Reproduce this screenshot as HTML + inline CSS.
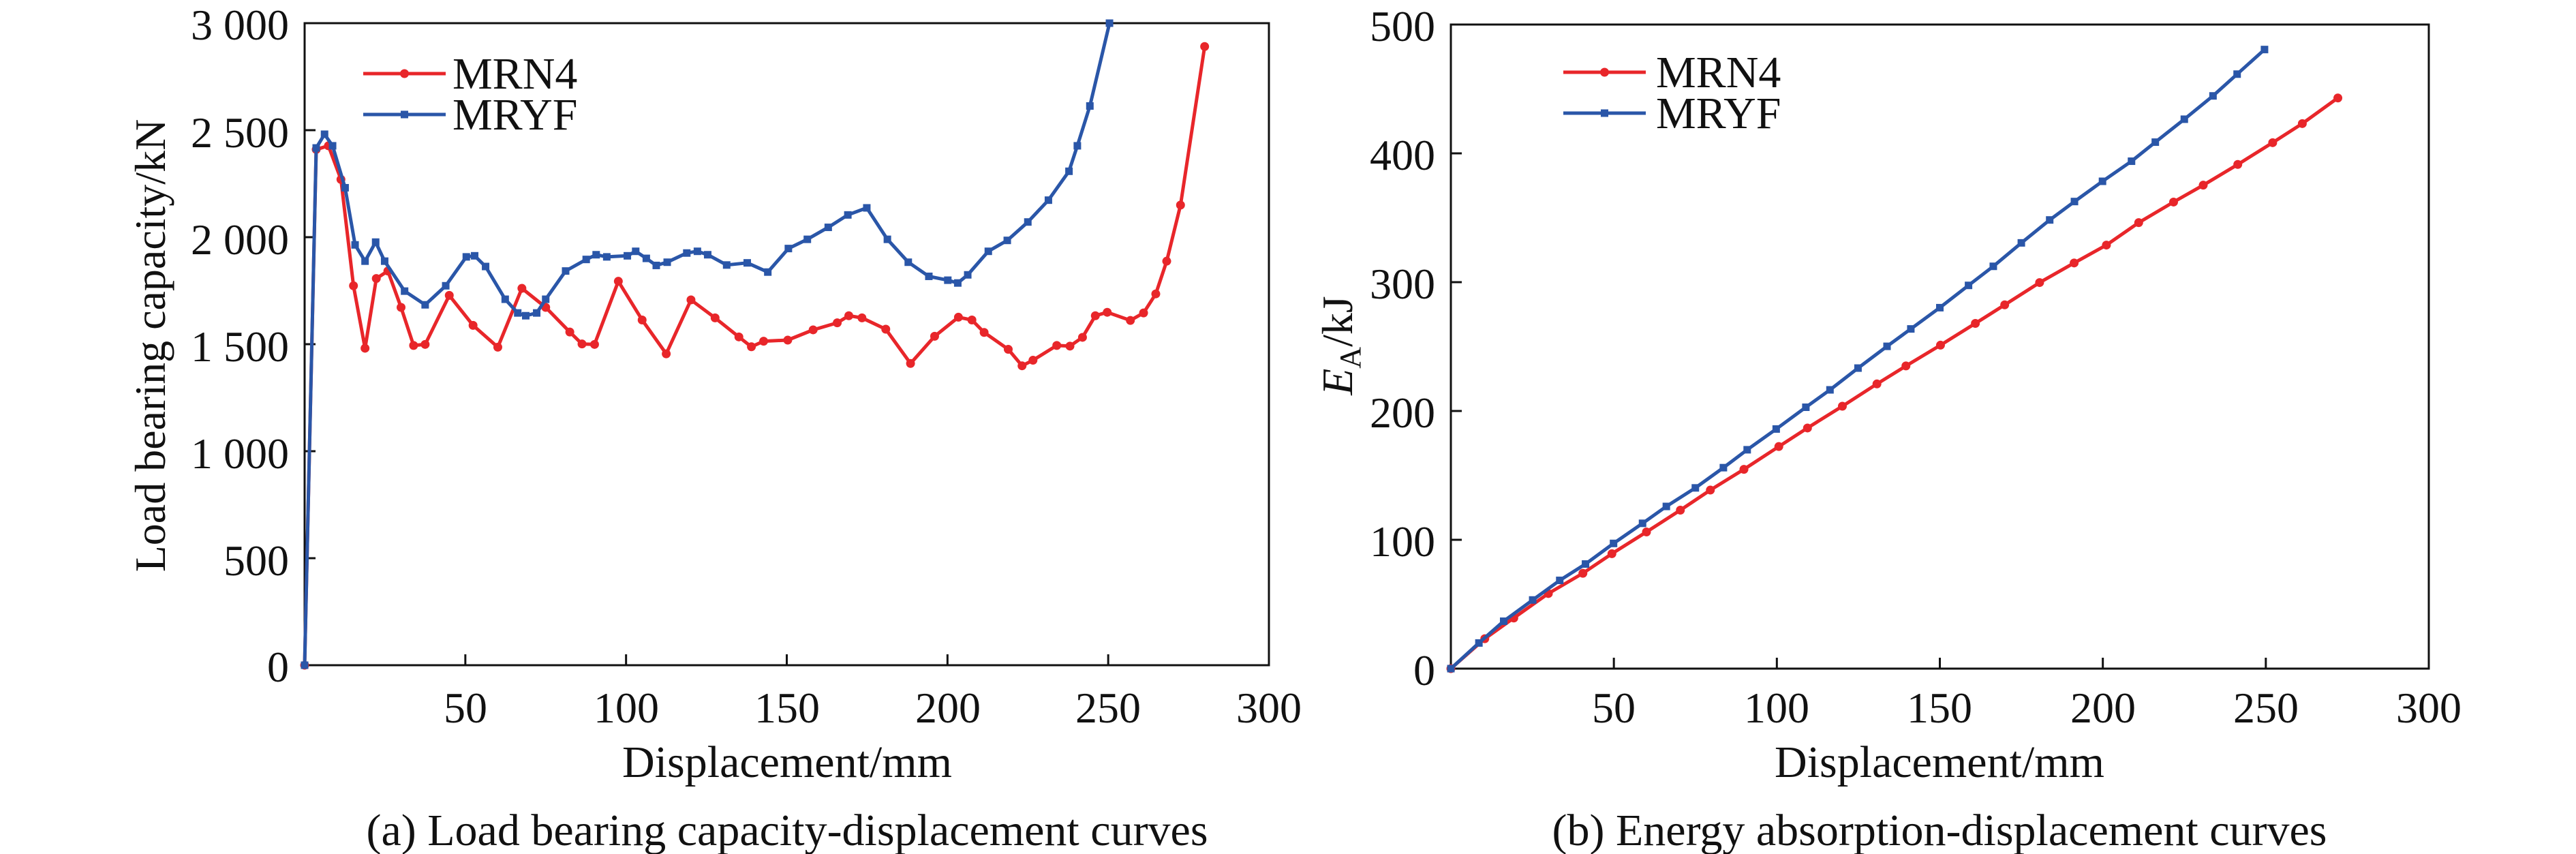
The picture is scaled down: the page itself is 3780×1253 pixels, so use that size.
<!DOCTYPE html>
<html><head><meta charset="utf-8"><style>
html,body{margin:0;padding:0;background:#fff;}
svg{display:block;font-family:"Liberation Serif",serif;}
</style></head><body>
<svg id="s" width="3780" height="1253" xmlns="http://www.w3.org/2000/svg">
<rect width="3780" height="1253" fill="#fff"/>
<g id="g"></g>
<!-- Panel a texts -->
<g font-size="64" fill="#111">
<text x="424" y="58" text-anchor="end">3 000</text>
<text x="424" y="216" text-anchor="end">2 500</text>
<text x="424" y="373" text-anchor="end">2 000</text>
<text x="424" y="530" text-anchor="end">1 500</text>
<text x="424" y="687" text-anchor="end">1 000</text>
<text x="424" y="844" text-anchor="end">500</text>
<text x="424" y="1000" text-anchor="end">0</text>
<text x="683" y="1060" text-anchor="middle">50</text>
<text x="919" y="1060" text-anchor="middle">100</text>
<text x="1155" y="1060" text-anchor="middle">150</text>
<text x="1391" y="1060" text-anchor="middle">200</text>
<text x="1626" y="1060" text-anchor="middle">250</text>
<text x="1862" y="1060" text-anchor="middle">300</text>
<text x="1155" y="1140" text-anchor="middle" font-size="66">Displacement/mm</text>
<text x="1155" y="1240" text-anchor="middle" font-size="66">(a) Load bearing capacity-displacement curves</text>
<text transform="translate(242,507) rotate(-90)" text-anchor="middle" font-size="64">Load bearing capacity/kN</text>
<text x="664" y="130" font-size="66">MRN4</text>
<text x="664" y="190" font-size="66">MRYF</text>
</g>
<!-- Panel b texts -->
<g font-size="64" fill="#111">
<text x="2106" y="60" text-anchor="end">500</text>
<text x="2106" y="249" text-anchor="end">400</text>
<text x="2106" y="438" text-anchor="end">300</text>
<text x="2106" y="627" text-anchor="end">200</text>
<text x="2106" y="816" text-anchor="end">100</text>
<text x="2106" y="1005" text-anchor="end">0</text>
<text x="2368" y="1060" text-anchor="middle">50</text>
<text x="2607" y="1060" text-anchor="middle">100</text>
<text x="2846" y="1060" text-anchor="middle">150</text>
<text x="3086" y="1060" text-anchor="middle">200</text>
<text x="3325" y="1060" text-anchor="middle">250</text>
<text x="3564" y="1060" text-anchor="middle">300</text>
<text x="2846" y="1140" text-anchor="middle" font-size="66">Displacement/mm</text>
<text x="2846" y="1240" text-anchor="middle" font-size="66">(b) Energy absorption-displacement curves</text>
<text transform="translate(1984,507) rotate(-90)" text-anchor="middle" font-size="64"><tspan font-style="italic">E</tspan><tspan font-size="44" dy="12">A</tspan><tspan dy="-12">/kJ</tspan></text>
<text x="2430" y="128" font-size="66">MRN4</text>
<text x="2430" y="188" font-size="66">MRYF</text>
</g>
</svg>
<script>
var NS="http://www.w3.org/2000/svg",g=document.getElementById("g");
function el(t,a){var e=document.createElementNS(NS,t);for(var k in a)e.setAttribute(k,a[k]);g.appendChild(e);return e;}
var RED="#e8262a",BLUE="#2a56a8";
function axes(L,R,T,B,xt,yt){
 el("rect",{x:L,y:T,width:R-L,height:B-T,fill:"none",stroke:"#111","stroke-width":3});
 xt.forEach(function(x){el("line",{x1:x,x2:x,y1:B,y2:B-16,stroke:"#111","stroke-width":3});});
 yt.forEach(function(y){el("line",{x1:L,x2:L+16,y1:y,y2:y,stroke:"#111","stroke-width":3});});
}
function series(pts,fx,fy,col,sq){
 var s=pts.map(function(p){return fx(p[0]).toFixed(1)+","+fy(p[1]).toFixed(1);}).join(" ");
 el("polyline",{points:s,fill:"none",stroke:col,"stroke-width":5,"stroke-linejoin":"round"});
 pts.forEach(function(p){var x=fx(p[0]),y=fy(p[1]);
  if(sq)el("rect",{x:x-5.5,y:y-5.5,width:11,height:11,fill:col});
  else el("circle",{cx:x,cy:y,r:6.5,fill:col});});
}
function legend(x1,x2,y,col,sq){
 el("line",{x1:x1,x2:x2,y1:y,y2:y,stroke:col,"stroke-width":5});
 var m=(x1+x2)/2;
 if(sq)el("rect",{x:m-5.5,y:y-5.5,width:11,height:11,fill:col});else el("circle",{cx:m,cy:y,r:6.5,fill:col});
}
// Panel a
var aL=447,aR=1862,aT=34,aB=976;
var ax=function(v){return aL+v*(aR-aL)/300;},ay=function(v){return aB-v*(aB-aT)/3000;};
var t1=[],t2=[];for(var i=1;i<=5;i++)t1.push(ax(i*50));for(i=1;i<=5;i++)t2.push(ay(i*500));
axes(aL,aR,aT,aB,t1,t2);
var mrn4=[[0,0],[3.6,2410],[7.4,2427],[11.3,2270],[15.2,1773],[18.8,1481],[22.3,1807],[25.9,1842],[30,1672],[33.9,1494],[37.5,1499],[45,1728],[52.4,1588],[60.1,1486],[67.6,1761],[75,1672],[82.5,1557],[86.3,1501],[90.2,1499],[97.6,1794],[105,1613],[112.5,1455],[120.2,1707],[127.7,1623],[135.1,1534],[139,1488],[142.8,1514],[150.3,1519],[158.2,1567],[165.7,1600],[169.3,1633],[173.4,1623],[180.8,1570],[188.5,1410],[196,1537],[203.4,1626],[207.6,1613],[211.4,1555],[218.9,1476],[223.2,1399],[226.6,1425],[234,1494],[238.1,1491],[242,1532],[246,1633],[249.7,1649],[256.9,1611],[261,1646],[264.8,1735],[268.2,1888],[272.5,2150],[280,2891]];
var mryf=[[0,0],[3.6,2417],[6.2,2481],[8.7,2427],[12.6,2231],[15.7,1964],[18.8,1888],[22.1,1977],[24.9,1888],[31.1,1748],[37.5,1684],[43.9,1773],[50.3,1908],[52.9,1913],[56.3,1863],[62.4,1710],[66.3,1646],[68.8,1633],[72.2,1646],[75,1710],[81.2,1842],[87.6,1896],[90.7,1918],[94,1908],[100.4,1913],[103,1934],[106.3,1901],[109.4,1868],[112.8,1883],[118.9,1926],[122.2,1934],[125.4,1918],[131.3,1870],[137.7,1880],[144.1,1837],[150.5,1947],[156.4,1990],[162.9,2046],[169,2104],[174.9,2137],[181.3,1990],[187.8,1883],[194.2,1817],[200.1,1799],[203.2,1786],[206.3,1824],[212.7,1934],[218.6,1985],[225,2071],[231.4,2173],[237.8,2308],[240.4,2427],[244.3,2613],[250.4,3000]];
series(mrn4,ax,ay,RED,false);series(mryf,ax,ay,BLUE,true);
legend(533,654,108,RED,false);legend(533,654,168,BLUE,true);
// Panel b
var bL=2129,bR=3564,bT=36,bB=981;
var bx=function(v){return bL+v*(bR-bL)/300;},by=function(v){return bB-v*(bB-bT)/500;};
t1=[];t2=[];for(i=1;i<=5;i++)t1.push(bx(i*50));for(i=1;i<=4;i++)t2.push(by(i*100));
axes(bL,bR,bT,bB,t1,t2);
var e1=[[0,0],[10.4,23.2],[19.3,39.3],[29.9,58.3],[40.5,74],[49.4,89.2],[60,106.1],[70.4,123],[79.6,138.6],[89.9,154.7],[100.6,172.4],[109.4,186.8],[120.1,203.7],[130.7,221],[139.6,235],[150.2,251.1],[160.9,268],[169.9,282.4],[180.6,299.7],[191.2,314.9],[201.1,328.8],[211,346.2],[221.7,362.2],[230.8,375.3],[241.4,391.4],[252.1,408.3],[261.2,423.1],[272.1,443]];
var e2=[[0,0],[8.6,19.9],[16.2,36.8],[25.1,53.3],[33.4,68.5],[41.3,81.2],[49.9,97.2],[58.8,112.8],[66.1,125.9],[75,140.3],[83.6,156],[90.9,169.9],[99.8,186],[108.9,202.9],[116.3,216.4],[124.9,233.3],[133.8,250.2],[141.1,263.7],[150,280.2],[158.8,297.5],[166.4,312.3],[175,330.5],[183.7,348.3],[191.3,362.6],[199.9,378.3],[208.8,393.9],[216.1,408.7],[225,426.5],[233.8,444.6],[241.2,461.5],[249.6,480.6]];
series(e1,bx,by,RED,false);series(e2,bx,by,BLUE,true);
legend(2294,2415,106,RED,false);legend(2294,2415,166,BLUE,true);
</script>
</body></html>
